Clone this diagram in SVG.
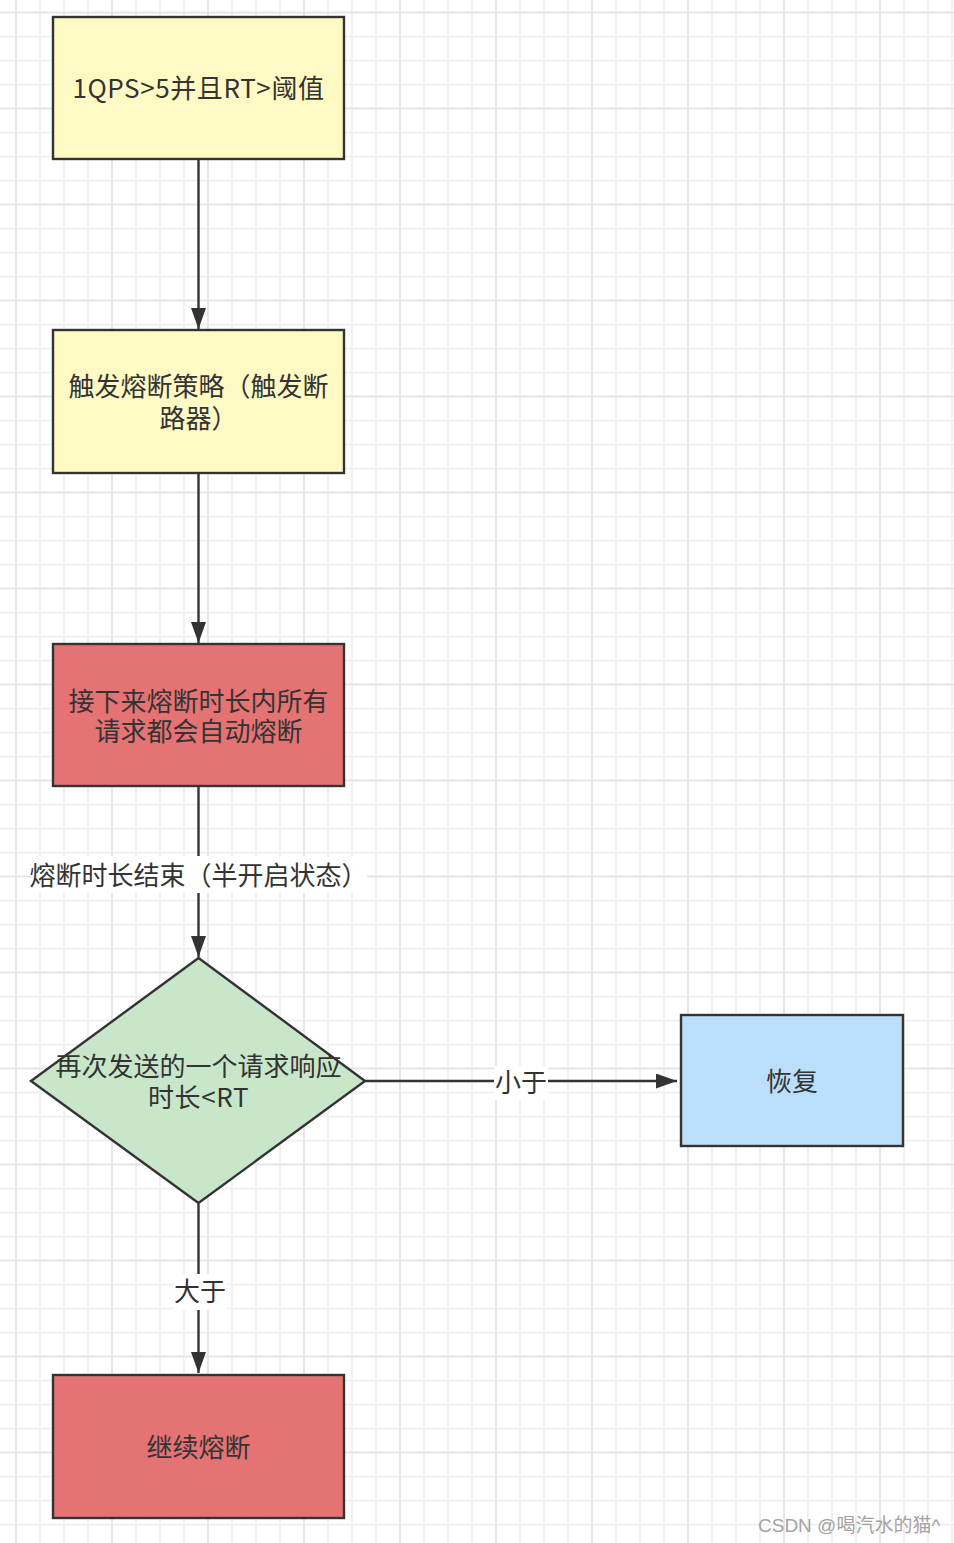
<svg xmlns="http://www.w3.org/2000/svg" width="954" height="1543" viewBox="0 0 954 1543">
<style>
.node{stroke:#333333;stroke-width:2.4}
.t{font-family:"Noto Sans CJK SC","Noto Sans",sans-serif;font-size:26px;fill:#333333;text-anchor:middle}
.edge{stroke:#333333;stroke-width:2.4;fill:none}
.lbl{fill:#ffffff}
.wm{font-family:"Liberation Sans","Noto Sans CJK SC",sans-serif;font-size:19px;fill:#a3a3a3}
</style>
<defs>
<pattern id="grid" patternUnits="userSpaceOnUse" x="15" y="11.5" width="96" height="96">
<rect width="96" height="96" fill="#ffffff"/>
<rect x="0" y="0" width="2" height="96" fill="#f0f0f0"/>
<rect x="24" y="0" width="2" height="96" fill="#f0f0f0"/>
<rect x="48" y="0" width="2" height="96" fill="#f0f0f0"/>
<rect x="72" y="0" width="2" height="96" fill="#f0f0f0"/>
<rect x="0" y="24" width="96" height="2" fill="#f0f0f0"/>
<rect x="0" y="48" width="96" height="2" fill="#f0f0f0"/>
<rect x="0" y="72" width="96" height="2" fill="#f0f0f0"/>
<rect x="0" y="0" width="2" height="96" fill="#e6e6e6"/>
<rect x="0" y="0" width="96" height="2" fill="#e6e6e6"/>
</pattern>
<marker id="arr" markerUnits="userSpaceOnUse" markerWidth="22" markerHeight="16" refX="21" refY="7.5" orient="auto">
<path d="M0,0 L21,7.5 L0,15 Z" fill="#333333"/>
</marker>
</defs>
<rect width="954" height="1543" fill="url(#grid)"/>

<g id="connectors">
<line class="edge" x1="198.5" y1="159" x2="198.5" y2="329" marker-end="url(#arr)"/>
<line class="edge" x1="198.5" y1="473" x2="198.5" y2="643" marker-end="url(#arr)"/>
<line class="edge" x1="198.5" y1="787" x2="198.5" y2="957" marker-end="url(#arr)"/>
<line class="edge" x1="365" y1="1081" x2="677" y2="1081" marker-end="url(#arr)"/>
<line class="edge" x1="198.5" y1="1204" x2="198.5" y2="1373" marker-end="url(#arr)"/>
<rect class="lbl" x="32" y="856" width="335" height="37"/>
<text class="t" x="198.5" y="885">熔断时长结束（半开启状态）</text>
<rect class="lbl" x="494" y="1066" width="54" height="34"/>
<text class="t" x="521" y="1092">小于</text>
<rect class="lbl" x="173" y="1274" width="54" height="36"/>
<text class="t" x="200" y="1301">大于</text>
</g>

<g id="n1">
<rect class="node" x="53" y="17" width="291" height="142" fill="#fff9c4"/>
<text class="t" x="198.5" y="98" letter-spacing="0.6">1QPS&gt;5并且RT&gt;阈值</text>
</g>
<g id="n2">
<rect class="node" x="53" y="330" width="291" height="143" fill="#fff9c4"/>
<text class="t" x="198.5" y="396">触发熔断策略（触发断</text>
<text class="t" x="198.5" y="428">路器）</text>
</g>
<g id="n3">
<rect class="node" x="53" y="644" width="291" height="142" fill="#e57373"/>
<text class="t" x="198.5" y="711">接下来熔断时长内所有</text>
<text class="t" x="198.5" y="741">请求都会自动熔断</text>
</g>
<g id="n4">
<polygon class="node" points="198.5,958 365,1081 198.5,1203 31,1081" fill="#c8e6c9"/>
<text class="t" x="198.5" y="1076">再次发送的一个请求响应</text>
<text class="t" x="198.5" y="1107" letter-spacing="0.6">时长&lt;RT</text>
</g>
<g id="n5">
<rect class="node" x="681" y="1015" width="222" height="131" fill="#bbdefb"/>
<text class="t" x="792" y="1091">恢复</text>
</g>
<g id="n6">
<rect class="node" x="53" y="1375" width="291" height="143" fill="#e57373"/>
<text class="t" x="198.5" y="1457">继续熔断</text>
</g>
<text class="wm" x="758" y="1532">CSDN @喝汽水的猫^</text>
</svg>
